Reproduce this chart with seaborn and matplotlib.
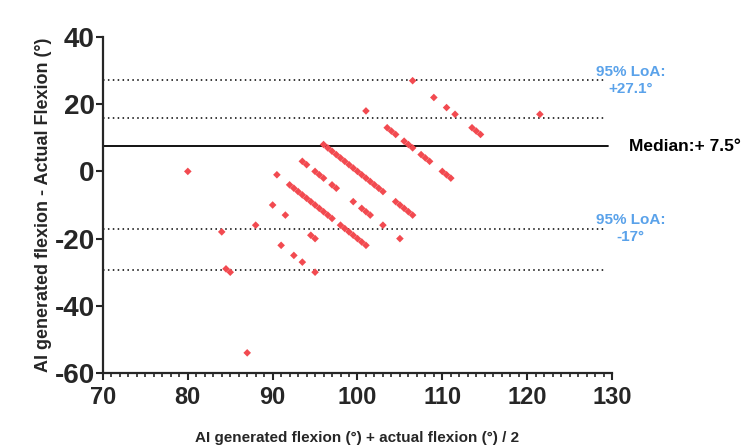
import numpy as np
import pandas as pd
import matplotlib
matplotlib.use("Agg")
import matplotlib.pyplot as plt
from matplotlib.ticker import MultipleLocator
import seaborn as sns

# средние значения (ось X) и разница (ось Y)
mean_vals = [80, 84, 84.5, 85, 87, 88, 90, 90.5, 91, 91.5, 92.5, 93.5, 95, 94.5, 95,
             93.5, 94, 95, 95.5, 96, 97, 97.5,
             92, 92.5, 93, 93.5, 94, 94.5, 95, 95.5, 96, 96.5, 97,
             98, 98.5, 99, 99.5, 100, 100.5, 101,
             96, 96.5, 97, 97.5, 98, 98.5, 99, 99.5, 100, 100.5, 101, 101.5, 102, 102.5, 103,
             99.5, 100.5, 101, 101.5, 103, 105,
             104.5, 105, 105.5, 106, 106.5,
             101, 103.5, 104, 104.5, 105.5, 106, 106.5, 107.5, 108, 108.5, 110, 110.5, 111,
             106.5, 109, 110.5, 111.5, 113.5, 114, 114.5, 121.5]
diff_vals = [0, -18, -29, -30, -54, -16, -10, -1, -22, -13, -25, -27, -30, -19, -20,
             3, 2, 0, -1, -2, -4, -5,
             -4, -5, -6, -7, -8, -9, -10, -11, -12, -13, -14,
             -16, -17, -18, -19, -20, -21, -22,
             8, 7, 6, 5, 4, 3, 2, 1, 0, -1, -2, -3, -4, -5, -6,
             -9, -11, -12, -13, -16, -20,
             -9, -10, -11, -12, -13,
             18, 13, 12, 11, 9, 8, 7, 5, 4, 3, 0, -1, -2,
             27, 22, 19, 17, 13, 12, 11, 17]

median_diff = 7.5
loa_upper = 27.1
loa_lower = -17
dotted_levels = [27.1, 16, -17, -29.4]

df = pd.DataFrame({"mean": mean_vals, "diff": diff_vals})

sns.set_style("ticks")
plt.rcParams['font.family'] = ['Liberation Sans', 'DejaVu Sans']
plt.rcParams['font.weight'] = 'bold'
plt.rcParams['axes.unicode_minus'] = False

fig = plt.figure(figsize=(7.5, 4.48), dpi=100)
ax = fig.add_axes([0.1373, 0.1674, 0.6787, 0.75])

for lvl in dotted_levels:
    ax.plot([70, 129.2], [lvl, lvl], color="black", linestyle=(0, (1, 2.2)), linewidth=1.1)
ax.plot([70, 129.5], [median_diff, median_diff], color="black", linewidth=1.3)

sns.scatterplot(data=df, x="mean", y="diff", marker="D", s=15, color="#f24a50",
                edgecolor="none", ax=ax, zorder=3)

ax.set_xlim(70, 130)
ax.set_ylim(-60, 40)
ax.xaxis.set_major_locator(MultipleLocator(10))
ax.xaxis.set_minor_locator(MultipleLocator(1))
ax.yaxis.set_major_locator(MultipleLocator(20))
sns.despine(ax=ax)
for sp in ["left", "bottom"]:
    ax.spines[sp].set_linewidth(1.6)
ax.tick_params(axis="x", which="major", length=5, width=1.5, labelsize=17, pad=4)
ax.tick_params(axis="x", which="minor", length=3, width=1.2)
ax.tick_params(axis="y", which="major", length=5, width=1.5, labelsize=20, pad=1)
for lab in ax.get_xticklabels() + ax.get_yticklabels():
    lab.set_fontweight("bold")

ax.set_xlabel("AI generated flexion (°) + actual flexion (°) / 2", fontsize=11,
              fontweight="bold", labelpad=16)
ax.set_ylabel("AI generated flexion - Actual Flexion (°)", fontsize=13,
              fontweight="bold", labelpad=2)

blue = "#5aa2ea"
ax.text(1.036, loa_upper, "95% LoA:\n+27.1°", transform=ax.get_yaxis_transform(),
        ha="center", va="center", color=blue, fontsize=11, fontweight="bold",
        linespacing=1.25, clip_on=False)
ax.text(1.036, loa_lower, "95% LoA:\n-17°", transform=ax.get_yaxis_transform(),
        ha="center", va="center", color=blue, fontsize=11, fontweight="bold",
        linespacing=1.25, clip_on=False)
ax.text(1.033, median_diff, "Median:+ 7.5°", transform=ax.get_yaxis_transform(),
        ha="left", va="center", color="black", fontsize=12.5, fontweight="bold",
        clip_on=False)

fig.savefig("out.png", dpi=100)
